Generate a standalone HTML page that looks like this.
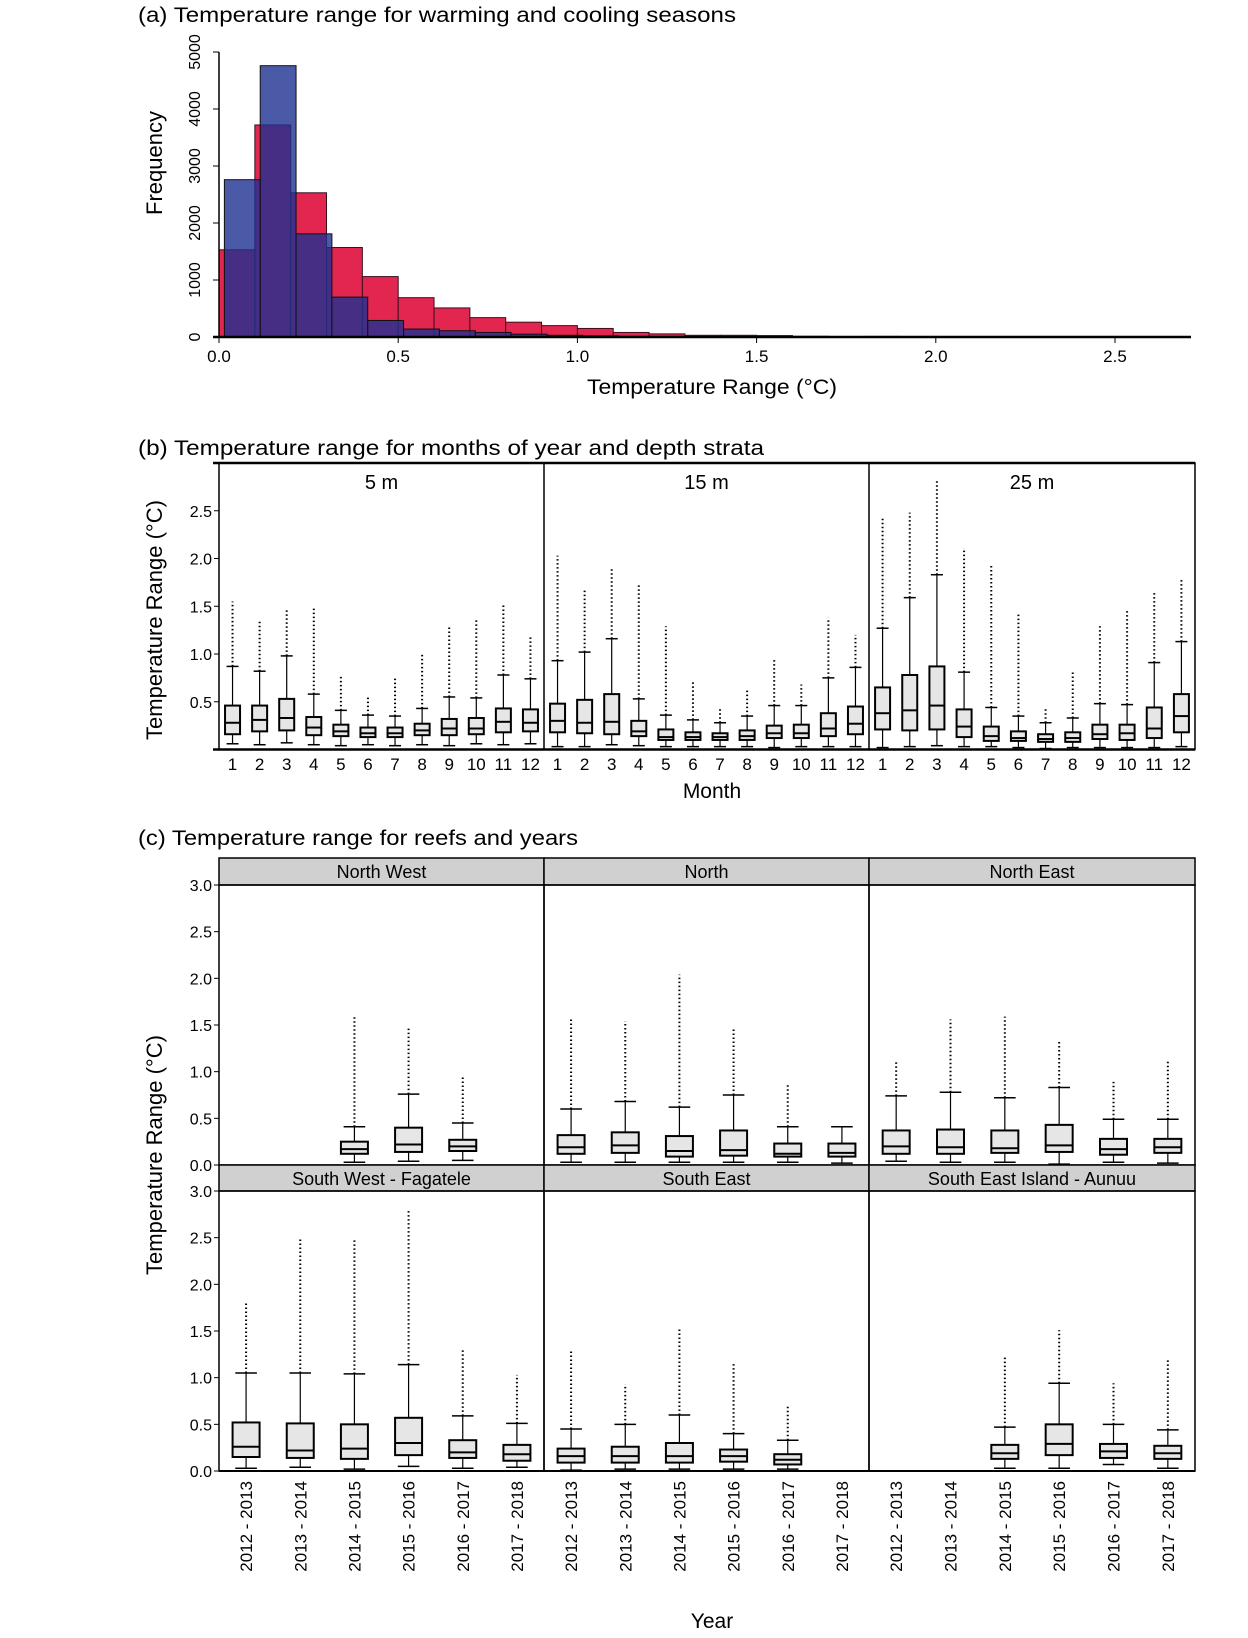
<!DOCTYPE html>
<html><head><meta charset="utf-8"><style>
body{margin:0;background:#fff}
svg{display:block;font-family:"Liberation Sans",sans-serif}
</style></head><body>
<svg id="s" width="1248" height="1638" viewBox="0 0 1248 1638">
<text x="138" y="22" font-size="21" textLength="598" lengthAdjust="spacingAndGlyphs">(a) Temperature range for warming and cooling seasons</text>
<text x="138" y="455" font-size="21" textLength="626" lengthAdjust="spacingAndGlyphs">(b) Temperature range for months of year and depth strata</text>
<text x="138" y="845" font-size="21" textLength="440" lengthAdjust="spacingAndGlyphs">(c) Temperature range for reefs and years</text>
<g id="ga"></g>
<g id="gb"></g>
<g id="gc"></g>
</svg>
<script>
// ---- panel (a) data ----
const redStarts=[0,0.1,0.2,0.3,0.4,0.5,0.6,0.7,0.8,0.9,1.0,1.1,1.2,1.3,1.4,1.5,1.6,1.8,2.0,2.2];
const redCounts=[1530,3720,2530,1570,1060,690,510,340,260,200,150,80,55,30,30,25,12,10,8,5];
const blueStarts=[0.015,0.115,0.215,0.315,0.415,0.515,0.615,0.715,0.815,0.915,1.015,1.115];
const blueCounts=[2760,4760,1810,700,290,140,110,80,50,30,20,10];
const binWidth=0.1;
const xTicksA=[0,0.5,1.0,1.5,2.0,2.5];
const xTickLabelsA=["0.0","0.5","1.0","1.5","2.0","2.5"];
const yTicksA=[0,1000,2000,3000,4000,5000];
// ---- panel (b) data [q1,median,q3,lowerWhisker,upperWhisker,maxOutlier] ----
const depths=["5 m","15 m","25 m"];
const months=["1","2","3","4","5","6","7","8","9","10","11","12"];
const box5m=[[.16,.28,.46,.06,.87,1.55],[.19,.31,.46,.05,.82,1.35],[.20,.33,.53,.07,.98,1.46],[.15,.23,.34,.05,.58,1.5],[.14,.19,.26,.04,.41,.76],[.13,.17,.23,.05,.36,.56],[.13,.17,.23,.04,.35,.76],[.15,.20,.27,.05,.43,1.0],[.15,.22,.32,.04,.55,1.3],[.16,.22,.33,.06,.54,1.36],[.18,.29,.43,.05,.78,1.52],[.19,.28,.42,.06,.74,1.19]];
const box15m=[[.18,.30,.48,.03,.93,2.03],[.17,.28,.52,.03,1.02,1.69],[.16,.29,.58,.05,1.16,1.9],[.14,.19,.30,.04,.53,1.74],[.10,.13,.21,.03,.36,1.29],[.10,.13,.18,.03,.31,.72],[.10,.13,.17,.03,.28,.44],[.10,.14,.20,.03,.35,.63],[.12,.17,.25,.02,.46,.96],[.12,.17,.26,.03,.46,.68],[.14,.22,.38,.03,.75,1.38],[.16,.27,.45,.03,.86,1.2]];
const box25m=[[.21,.38,.65,.02,1.27,2.44],[.20,.41,.78,.03,1.59,2.48],[.21,.46,.87,.04,1.83,2.82],[.13,.24,.42,.03,.81,2.11],[.09,.14,.24,.03,.44,1.94],[.09,.12,.19,.02,.35,1.42],[.08,.11,.16,.01,.28,.44],[.08,.12,.18,.02,.33,.81],[.11,.16,.26,.02,.48,1.29],[.10,.17,.26,.02,.47,1.45],[.12,.22,.44,.02,.91,1.65],[.18,.35,.58,.03,1.13,1.8]];
const yTicksB=[0.5,1.0,1.5,2.0,2.5];
// ---- panel (c) data ----
const reefs=["North West","North","North East","South West -  Fagatele","South East","South East Island - Aunuu"];
const years=["2012 - 2013","2013 - 2014","2014 - 2015","2015 - 2016","2016 - 2017","2017 - 2018"];
const boxNW=[null,null,[.12,.17,.25,.03,.41,1.6],[.14,.22,.40,.04,.76,1.47],[.15,.20,.27,.05,.45,.96],null];
const boxN=[[.12,.19,.32,.03,.60,1.56],[.13,.21,.35,.03,.68,1.54],[.09,.15,.31,.03,.62,2.04],[.10,.16,.37,.03,.75,1.47],[.09,.12,.23,.03,.41,.88],[.09,.13,.23,.02,.41,.41]];
const boxNE=[[.12,.20,.37,.04,.74,1.1],[.12,.19,.38,.03,.78,1.56],[.13,.18,.37,.03,.72,1.59],[.14,.21,.43,.01,.83,1.34],[.11,.17,.28,.03,.49,.89],[.13,.19,.28,.02,.49,1.12]];
const boxSW=[[.15,.26,.52,.03,1.05,1.8],[.14,.22,.51,.04,1.05,2.48],[.13,.24,.50,.02,1.04,2.49],[.17,.30,.57,.05,1.14,2.8],[.14,.20,.33,.03,.59,1.3],[.11,.18,.28,.04,.51,1.03]];
const boxSE=[[.09,.16,.24,.01,.45,1.3],[.09,.16,.26,.02,.50,.93],[.09,.16,.30,.02,.60,1.53],[.10,.16,.23,.02,.40,1.17],[.07,.12,.18,.02,.33,.71],null];
const boxSEI=[null,null,[.13,.19,.28,.03,.47,1.22],[.17,.29,.50,.03,.94,1.51],[.14,.21,.29,.07,.50,.94],[.13,.19,.27,.03,.44,1.21]];
const yTicksC=[0,0.5,1.0,1.5,2.0,2.5,3.0];

const NS="http://www.w3.org/2000/svg";
function mk(parent,tag,attrs,txt){const e=document.createElementNS(NS,tag);for(const k in attrs)e.setAttribute(k,attrs[k]);if(txt!==undefined)e.textContent=txt;parent.appendChild(e);return e;}

// ===== panel a =====
(function(){
const g=document.getElementById('ga');
const K=358.4;
const x=v=>219+v*K, y=v=>337-v*0.057;
redStarts.forEach((s,i)=>{
 const r=mk(g,'rect',{x:x(s),y:y(redCounts[i]),width:binWidth*K,height:337-y(redCounts[i]),fill:'#e3264f',stroke:'#3a1020','stroke-width':1});
 
 
});
blueStarts.forEach((s,i)=>{
 const r=mk(g,'rect',{x:x(s),y:y(blueCounts[i]),width:binWidth*K,height:337-y(blueCounts[i]),fill:'rgba(29,49,144,0.8)',stroke:'#111','stroke-width':1});
 
 
});
mk(g,'line',{x1:219,y1:y(5000),x2:219,y2:337,stroke:'#000','stroke-width':1.5});
mk(g,'line',{x1:213,y1:337,x2:1191,y2:337,stroke:'#000','stroke-width':2.5});
yTicksA.forEach(v=>{
 mk(g,'line',{x1:213,y1:y(v),x2:219,y2:y(v),stroke:'#000'});
 const t=mk(g,'text',{x:0,y:0,'font-size':16,'text-anchor':'middle',transform:`translate(200,${y(v)}) rotate(-90)`},String(v));
 
 
});
xTicksA.forEach((v,i)=>{
 mk(g,'line',{x1:x(v),y1:337,x2:x(v),y2:343,stroke:'#000'});
 const t=mk(g,'text',{x:x(v),y:362,'font-size':17,'text-anchor':'middle'},xTickLabelsA[i]);
 
 
});
const yt=mk(g,'text',{x:0,y:0,'font-size':22,'text-anchor':'middle',transform:'translate(162,163) rotate(-90)'},'Frequency');


const xt=mk(g,'text',{x:712,y:394,'font-size':21,'text-anchor':'middle',textLength:250,lengthAdjust:'spacingAndGlyphs'},'Temperature Range (°C)');


})();

function drawBox(g,cx,w,b,yf,name){
 const [q1,md,q3,lo,hi,mx]=b;
 const grp=mk(g,'g',{});
 
 
 if(mx>hi) mk(grp,'line',{x1:cx,y1:yf(hi),x2:cx,y2:yf(mx),stroke:'#000','stroke-width':2,'stroke-dasharray':'1.5 2.5'});
 mk(grp,'line',{x1:cx,y1:yf(lo),x2:cx,y2:yf(hi),stroke:'#000','stroke-width':1.2});
 mk(grp,'line',{x1:cx-w*0.4,y1:yf(hi),x2:cx+w*0.4,y2:yf(hi),stroke:'#000','stroke-width':1.5});
 mk(grp,'line',{x1:cx-w*0.4,y1:yf(lo),x2:cx+w*0.4,y2:yf(lo),stroke:'#000','stroke-width':1.5});
 mk(grp,'rect',{x:cx-w/2,y:yf(q3),width:w,height:yf(q1)-yf(q3),fill:'#e6e6e6',stroke:'#000','stroke-width':2});
 mk(grp,'line',{x1:cx-w/2,y1:yf(md),x2:cx+w/2,y2:yf(md),stroke:'#000','stroke-width':2});
}

const LEFTS=[219,544,869], WIDTHS=[325,325,326], RIGHT=1195;

// ===== panel b =====
(function(){
const g=document.getElementById('gb');
const B=749.5;
const y=v=>B-v*95.5;
const data=[box5m,box15m,box25m];
LEFTS.forEach((L,p)=>{
 const st=WIDTHS[p]/12;
 data[p].forEach((b,i)=>drawBox(g,L+st*(i+0.5),15,b,y,'box-'+depths[p].replace(' ','')+'-month-'+months[i]));
 months.forEach((m,i)=>{
  const t=mk(g,'text',{x:L+st*(i+0.5),y:770,'font-size':17,'text-anchor':'middle'},m);
  
  
 });
 const s=mk(g,'text',{x:L+WIDTHS[p]/2,y:489,'font-size':20,'text-anchor':'middle'},depths[p]);
 
 
});
mk(g,'rect',{x:219,y:463,width:RIGHT-219,height:B-463,fill:'none',stroke:'#000','stroke-width':1.5});
mk(g,'line',{x1:213,y1:463,x2:RIGHT,y2:463,stroke:'#000','stroke-width':2.5});
mk(g,'line',{x1:213,y1:B,x2:RIGHT,y2:B,stroke:'#000','stroke-width':2.5});
mk(g,'line',{x1:544,y1:463,x2:544,y2:B,stroke:'#000','stroke-width':1.5});
mk(g,'line',{x1:869,y1:463,x2:869,y2:B,stroke:'#000','stroke-width':1.5});
yTicksB.forEach(v=>{
 mk(g,'line',{x1:214,y1:y(v),x2:219,y2:y(v),stroke:'#000'});
 const t=mk(g,'text',{x:212,y:y(v)+6,'font-size':16,'text-anchor':'end'},v.toFixed(1));
 
 
});
const yt=mk(g,'text',{x:0,y:0,'font-size':22,'text-anchor':'middle',transform:'translate(162,620) rotate(-90)'},'Temperature Range (°C)');


const xt=mk(g,'text',{x:712,y:798,'font-size':21,'text-anchor':'middle'},'Month');


})();

// ===== panel c =====
(function(){
const g=document.getElementById('gc');
const data=[boxNW,boxN,boxNE,boxSW,boxSE,boxSEI];
const rows=[{strip:858,top:885,bot:1165},{strip:1165,top:1191,bot:1471}];
data.forEach((arr,k)=>{
 const r=rows[Math.floor(k/3)], c=k%3, L=LEFTS[c], W=WIDTHS[c];
 const y=v=>r.bot-v*(r.bot-r.top)/3;
 const sr=mk(g,'rect',{x:L,y:r.strip,width:W,height:r.top-r.strip,fill:'#d0d0d0',stroke:'#000','stroke-width':1.5});
 
 
 const st=mk(g,'text',{x:L+W/2,y:r.strip+20,'font-size':18,'text-anchor':'middle'},reefs[k]);
 
 
 mk(g,'rect',{x:L,y:r.top,width:W,height:r.bot-r.top,fill:'none',stroke:'#000','stroke-width':1.5});
 const s=W/6;
 arr.forEach((b,i)=>{ if(b) drawBox(g,L+s*(i+0.5),27,b,y,'box-'+k+'-'+years[i].replace(/ /g,'')); });
});
rows.forEach(r=>{
 const y=v=>r.bot-v*(r.bot-r.top)/3;
 yTicksC.forEach(v=>{
  mk(g,'line',{x1:214,y1:y(v),x2:219,y2:y(v),stroke:'#000'});
  const t=mk(g,'text',{x:212,y:y(v)+6,'font-size':16,'text-anchor':'end'},v.toFixed(1));
  
  
 });
});
mk(g,'line',{x1:219,y1:1471,x2:RIGHT,y2:1471,stroke:'#000','stroke-width':2});
LEFTS.forEach((L,c)=>{
 const s=WIDTHS[c]/6;
 years.forEach((yr,i)=>{
  const t=mk(g,'text',{x:0,y:0,'font-size':17,'text-anchor':'end',transform:`translate(${L+s*(i+0.5)+6},1481) rotate(-90)`},yr);
  
  
 });
});
const yt=mk(g,'text',{x:0,y:0,'font-size':22,'text-anchor':'middle',transform:'translate(162,1155) rotate(-90)'},'Temperature Range (°C)');


const xt=mk(g,'text',{x:712,y:1628,'font-size':21,'text-anchor':'middle'},'Year');


})();
</script>
</body></html>
